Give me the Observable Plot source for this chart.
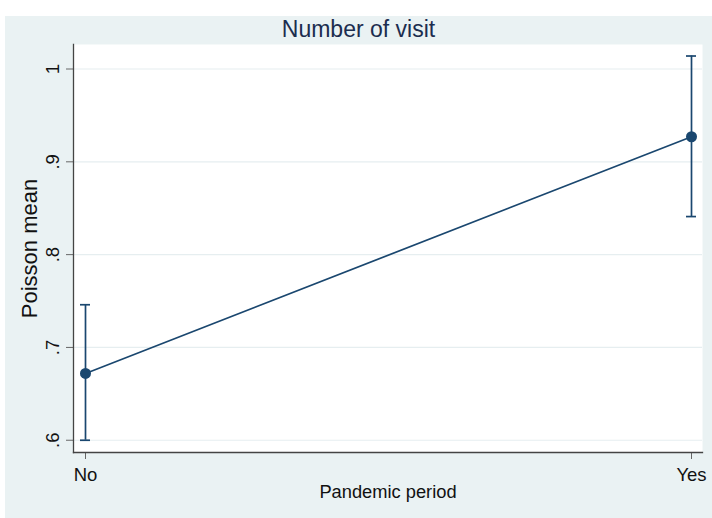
<!DOCTYPE html>
<html>
<head>
<meta charset="utf-8">
<script src="https://cdn.jsdelivr.net/npm/d3@7"></script>
<script src="https://cdn.jsdelivr.net/npm/@observablehq/plot@0.6"></script>
<style>
  html, body { margin: 0; padding: 0; background: #ffffff; }
  #wrap {
    position: absolute; left: 5px; top: 16px; width: 707px; height: 502px;
    background: #EAF2F3; font-family: "Liberation Sans", Arial, sans-serif;
  }
  #title {
    height: 27px; line-height: 27px; text-align: center;
    font-size: 23px; color: #1c2d4f;
  }
  #chart svg { display: block; background: transparent; }
</style>
</head>
<body>
<div id="wrap">
  <div id="title">Number of visit</div>
  <div id="chart"></div>
</div>
<script>
const period = ["No", "Yes"];
const mean = [0.672, 0.927];
const lower = [0.600, 0.841];
const upper = [0.746, 1.014];
const yTicks = [0.6, 0.7, 0.8, 0.9, 1.0];
const yTickLabels = [".6", ".7", ".8", ".9", "1"];
const xLabel = "Pandemic period";
const yLabel = "Poisson mean";

const rows = period.map((p, i) => ({period: p, mean: mean[i], lower: lower[i], upper: upper[i]}));
const navy = "#1a476f";

const chart = Plot.plot({
  width: 707,
  height: 475,
  marginTop: 1,
  marginLeft: 68,
  marginRight: 10,
  marginBottom: 66,
  style: {background: "transparent", fontFamily: "Liberation Sans, Arial, sans-serif"},
  x: {type: "point", domain: period, padding: 0, insetLeft: 11.5, insetRight: 11},
  y: {domain: [0.5868, 1.0264]},
  marks: [
    Plot.frame({fill: "white", stroke: null}),
    Plot.gridY(yTicks, {stroke: "#E6EEF0", strokeOpacity: 1, strokeWidth: 1.2}),
    Plot.axisY({
      ticks: yTicks,
      tickFormat: d => yTickLabels[yTicks.indexOf(d)],
      tickSize: 7, tickPadding: 7.7, tickRotate: -90,
      fontSize: 18.5, fill: "#111", stroke: "#666",
      label: null
    }),
    Plot.axisY({
      ticks: [], fontSize: 22, fill: "#111",
      label: yLabel, labelAnchor: "center", labelOffset: 52.3, labelArrow: "none"
    }),
    Plot.axisX({
      tickSize: 7, tickPadding: 8, fontSize: 18.5, fill: "#111", stroke: "#666",
      label: null
    }),
    Plot.axisX({
      ticks: [], fontSize: 18.3, fill: "#111",
      label: xLabel, labelAnchor: "center", labelOffset: 45.7, labelArrow: "none"
    }),
    Plot.frame({anchor: "bottom", stroke: "#444", strokeWidth: 1.3}),
    Plot.ruleX(rows, {x: "period", y1: "lower", y2: "upper", stroke: navy, strokeWidth: 1.7}),
    Plot.ruleY(rows, {x1: "period", x2: "period", y: "lower", stroke: navy, strokeWidth: 1.7, insetLeft: -5, insetRight: -5}),
    Plot.ruleY(rows, {x1: "period", x2: "period", y: "upper", stroke: navy, strokeWidth: 1.7, insetLeft: -5, insetRight: -5}),
    Plot.line(rows, {x: "period", y: "mean", stroke: navy, strokeWidth: 1.7}),
    Plot.dot(rows, {x: "period", y: "mean", r: 5.5, fill: navy, stroke: null}),
    Plot.frame({anchor: "left", stroke: "#444", strokeWidth: 1.3})
  ]
});
document.getElementById("chart").appendChild(chart);
</script>
</body>
</html>
